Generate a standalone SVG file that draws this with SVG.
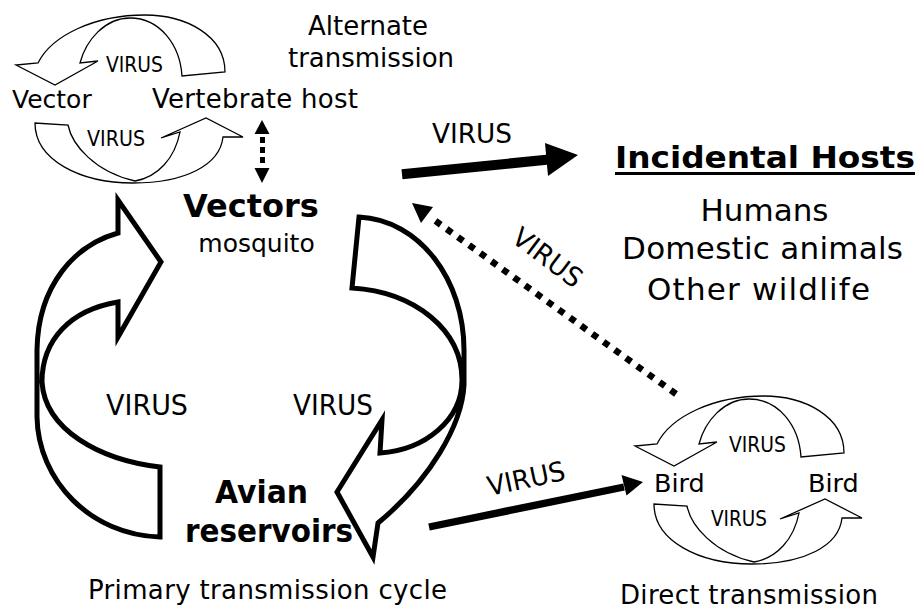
<svg xmlns="http://www.w3.org/2000/svg" width="920" height="609" viewBox="0 0 920 609">
<style>
.t{font-family:"DejaVu Sans","Liberation Sans",sans-serif;fill:#000}
.b{font-weight:bold}
.big{fill:none;stroke:#000;stroke-width:5;stroke-linejoin:miter;stroke-miterlimit:10}
.sm{fill:none;stroke:#000;stroke-width:1.3;stroke-linejoin:miter}
.line{stroke:#000;fill:none}
.head{fill:#000;stroke:none}
</style>
<defs>
<path id="upArrow" class="sm" d="M225,72 C225,35 185,15 145,15 C95,15 52,35 38,63 L16,65 L55,85 L98,61 L80,63 C86,40 105,18 130,18 C160,18 180,45 182,76 Z"/>
<path id="lowArrow" class="sm" d="M35,123 C35,160 80,183 133,183 C185,183 220,165 223,137 L243,137 L206,118 L161,138 L180,132 C175,158 158,177 135,181 C95,172 72,145 68,125 Z"/>
</defs>
<rect width="920" height="609" fill="#fff"/>

<g id="alternate-transmission">
<use href="#upArrow"/>
<use href="#lowArrow"/>
<text class="t" x="106" y="72" font-size="20.5" textLength="57" lengthAdjust="spacingAndGlyphs">VIRUS</text>
<text class="t" x="87" y="146" font-size="20.5" textLength="58" lengthAdjust="spacingAndGlyphs">VIRUS</text>
<text class="t" x="12" y="108" font-size="25">Vector</text>
<text class="t" x="152" y="108" font-size="26" textLength="206">Vertebrate host</text>
<text class="t" x="368" y="35" font-size="26" text-anchor="middle">Alternate</text>
<text class="t" x="371" y="67" font-size="26" text-anchor="middle">transmission</text>
</g>

<g id="vectors">
<text class="t b" x="251" y="217" font-size="32" text-anchor="middle">Vectors</text>
<text class="t" x="256.5" y="252" font-size="25" text-anchor="middle">mosquito</text>
</g>

<g id="avian-reservoirs">
<text class="t b" x="215" y="503" font-size="32" textLength="93" lengthAdjust="spacingAndGlyphs">Avian</text>
<text class="t b" x="185" y="542" font-size="32" textLength="168" lengthAdjust="spacingAndGlyphs">reservoirs</text>
<text class="t" x="88" y="599" font-size="26" textLength="359">Primary transmission cycle</text>
</g>

<g id="incidental-hosts">
<text class="t b" x="615" y="168" font-size="30" textLength="300" lengthAdjust="spacingAndGlyphs">Incidental Hosts</text>
<line x1="615" y1="173.5" x2="915" y2="173.5" stroke="#000" stroke-width="3"/>
<text class="t" x="764.5" y="221" font-size="31" text-anchor="middle">Humans</text>
<text class="t" x="622" y="259" font-size="31" textLength="281">Domestic animals</text>
<text class="t" x="647" y="300" font-size="31" textLength="223">Other wildlife</text>
</g>

<g id="direct-transmission">
<use href="#upArrow" transform="translate(619,381)"/>
<use href="#lowArrow" transform="translate(619,381)"/>
<text class="t" x="729" y="452" font-size="20.5" textLength="57" lengthAdjust="spacingAndGlyphs">VIRUS</text>
<text class="t" x="711" y="526" font-size="20.5" textLength="56" lengthAdjust="spacingAndGlyphs">VIRUS</text>
<text class="t" x="654" y="492" font-size="25.5">Bird</text>
<text class="t" x="808" y="492" font-size="25.5">Bird</text>
<text class="t" x="620" y="604" font-size="26" textLength="258">Direct transmission</text>
</g>

<g id="connectors">
<path class="big" d="M160,467 C100,460 45,430 42,382 C42,340 70,310 118,302 L118,337 L161,262 L118,200 L118,233 C75,245 38,285 37,350 L37,417 C38,480 90,535 160,537 Z"/>
<text class="t" x="106" y="415" font-size="29" textLength="82" lengthAdjust="spacingAndGlyphs">VIRUS</text>
<path class="big" d="M352,288 C415,292 462,330 462,380 C462,420 425,450 380,453 L382,420 L337,492 L373,557 L378,523 C430,480 462,425 464,385 L464,350 C464,280 420,220 359,217 Z"/>
<text class="t" x="293" y="415" font-size="29" textLength="80" lengthAdjust="spacingAndGlyphs">VIRUS</text>
<line class="line" x1="402" y1="174.3" x2="549" y2="159.5" stroke-width="10"/>
<polygon class="head" points="545,143 578,155 548,176"/>
<text class="t" x="432" y="143" font-size="27" textLength="80" lengthAdjust="spacingAndGlyphs">VIRUS</text>
<line class="line" x1="676" y1="394" x2="430" y2="217" stroke-width="6.5" stroke-dasharray="6.5 7.3"/>
<polygon class="head" points="412,203 433,207 421,223"/>
<text class="t" transform="translate(548,257) rotate(37)" x="0" y="10" font-size="27" text-anchor="middle" textLength="80" lengthAdjust="spacingAndGlyphs">VIRUS</text>
<line class="line" x1="429" y1="527" x2="624" y2="487" stroke-width="7.4"/>
<polygon class="head" points="621.5,475 643,482 626.5,495.5"/>
<text class="t" transform="translate(526,478) rotate(-12)" x="0" y="10" font-size="27" text-anchor="middle" textLength="79" lengthAdjust="spacingAndGlyphs">VIRUS</text>
<line class="line" x1="262.5" y1="137" x2="262.5" y2="163" stroke-width="5" stroke-dasharray="6 4"/>
<polygon class="head" points="262,120 269.5,134 254.5,134"/>
<polygon class="head" points="254.5,168 269.5,168 262,183"/>
</g>
</svg>
